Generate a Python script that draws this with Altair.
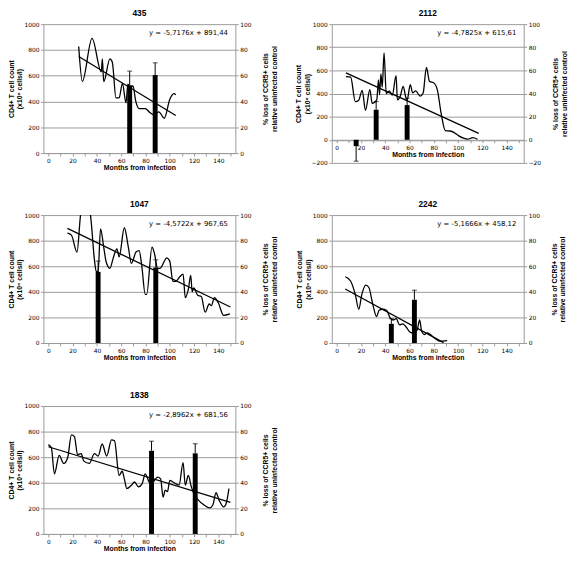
import altair as alt
import pandas as pd

panel_ids = ["435", "2112", "1047", "2242", "1838"]

# CD4+ T cell count curves: months from infection / count
m_435 = [25, 28, 36, 43.6, 44.5, 45.6, 50.7, 52.7, 55.7, 58.3, 61, 64, 65.5, 67.5, 69.7, 72, 74.8, 79.8, 83.6, 87.4, 91, 95.5, 100, 103.4, 105]
c_435 = [826, 556, 890, 630, 730, 554, 730, 705, 428, 428, 541, 390, 535, 505, 521, 403, 345, 345, 315, 295, 320, 270, 415, 461, 453]

m_2112 = [7.6, 11.5, 15.3, 18, 21, 23.7, 27.3, 29.2, 33, 34.4, 35.3, 36.4, 37.5, 39, 40.8, 43.3, 45.8, 48.9, 50, 52.2, 54.8, 56.8, 58, 60.6, 62.6, 65, 68.8, 71.2, 73.9, 76.4, 80.2, 83, 86, 89.5, 93.5, 96.8, 100.6, 104.4, 108, 112, 116]
c_2112 = [546, 541, 330, 340, 428, 254, 434, 315, 345, 518, 390, 569, 455, 752, 400, 423, 386, 555, 345, 372, 462, 372, 345, 476, 405, 423, 378, 405, 625, 507, 490, 428, 230, 80, 76, 62, 34, 14, 5, 18, 5]

m_1047 = [15.7, 19, 23.6, 26.5, 30, 34.7, 38, 39.5, 41, 43, 45.6, 47.6, 50.7, 53.7, 56.5, 58.3, 62.6, 65.9, 68.4, 72.2, 74.8, 77, 79.8, 81, 85.4, 87.4, 90, 92, 97.6, 100, 102.6, 105, 108.5, 111, 112.8, 115.3, 117.3, 118.5, 119.9, 123, 126, 129.2, 132.5, 134.3, 136.8, 139.9, 144.4, 149.5]
c_1047 = [858, 843, 711, 1000, 1150, 1000, 647, 558, 560, 893, 750, 635, 584, 673, 736, 673, 901, 749, 622, 711, 723, 600, 381, 381, 749, 700, 584, 584, 665, 640, 482, 482, 520, 538, 355, 419, 528, 400, 431, 373, 363, 241, 305, 292, 355, 317, 216, 228]

m_2242 = [7.1, 11.4, 15.2, 18.2, 20.7, 24, 26.5, 29.8, 32.9, 34.9, 37.9, 41, 44.3, 46.8, 49, 51.8, 54.4, 56.9, 60.2, 62, 64.5, 66, 68.3, 70, 72.1, 74.6, 77.1, 79.7, 82.2, 84.7, 87.3, 91]
c_2242 = [518, 485, 383, 264, 380, 452, 434, 299, 206, 256, 264, 256, 193, 180, 190, 142, 150, 129, 86, 79, 104, 95, 180, 91, 66, 79, 66, 46, 28, 15, 15, 18]

m_1838 = [0, 2.5, 5, 8.9, 12.7, 16, 19, 21.5, 24, 27.1, 29.1, 33.7, 38, 41, 44.3, 48.1, 52, 54.5, 58.3, 60.8, 62.6, 64.6, 68.4, 71, 74.3, 77.3, 79.8, 83.6, 86.2, 90, 92.5, 94.5, 96.3, 98.1, 100.1, 102.6, 107.7, 111, 112.8, 115.3, 117.8, 120.4, 123.4, 128, 133, 135.6, 138.1, 140.6, 144.4, 146.2, 148.8]
c_1838 = [698, 673, 470, 614, 551, 600, 774, 761, 622, 627, 571, 551, 627, 609, 703, 609, 736, 728, 457, 490, 431, 355, 381, 406, 368, 393, 470, 400, 406, 444, 431, 287, 343, 330, 419, 406, 381, 558, 381, 457, 368, 305, 266, 228, 203, 228, 322, 266, 211, 230, 355]

# trend line equations and their x-extent
equations = ["y = -5,7176x + 891,44", "y = -4,7825x + 615,61", "y = -4,5722x + 967,65",
             "y = -5,1666x + 458,12", "y = -2,8962x + 681,56"]
slopes = [-5.7176, -4.7825, -4.5722, -5.1666, -2.8962]
intercepts = [891.44, 615.61, 967.65, 458.12, 681.56]
trend_from = [25, 7.6, 15.7, 7, 0]
trend_to = [105, 117, 150, 88, 150]

# % loss of CCR5+ cells bars with error
bar_m = [[67, 88], [16, 32.5, 58], [41, 88.5], [45, 64], [85, 121]]
bar_p = [[52.6, 60.5], [-5.5, 26, 30], [55.6, 59], [15, 33.8], [65, 63]]
bar_e = [[11, 9.5], [13, 7, 6], [8.5, 6], [4, 7.5], [7.5, 7.5]]

left_domains = [[0, 1000], [-200, 1000], [0, 1000], [0, 1000], [0, 1000]]
right_domains = [[0, 100], [-20, 100], [0, 100], [0, 100], [0, 100]]
heights = [131, 141, 130, 130, 130]
eq_y = [930, 920, 930, 930, 930]

curves_m = [m_435, m_2112, m_1047, m_2242, m_1838]
curves_c = [c_435, c_2112, c_1047, c_2242, c_1838]

TICK_FONT = "DejaVu Sans"
TITLE_FONT = "Liberation Sans"
GRAY = "#9a9a9a"
W = 195


def panel(i):
    x_axis = alt.Axis(
        values=list(range(0, 151, 10)),
        labelExpr="datum.value % 20 == 0 ? datum.label : ''",
        title="Months from infection",
        grid=False,
        offset=-(heights[i] * 200 / 1200) if i == 1 else 0,
    )
    X = lambda f: alt.X(f, type="quantitative", scale=alt.Scale(domain=[0, 150], nice=False), axis=x_axis)
    left_axis = alt.Axis(values=list(range(left_domains[i][0], 1001, 200)), format="d",
                         title=["CD4+ T cell count", "(x10\u2076 cells/l)"], grid=True,
                         gridColor=GRAY)
    YL = lambda f: alt.Y(f, type="quantitative",
                         scale=alt.Scale(domain=left_domains[i], nice=False), axis=left_axis)
    right_axis = alt.Axis(values=list(range(right_domains[i][0], 101, 20)), orient="right", format="d",
                          title=["% loss of CCR5+ cells", "relative uninfected control"],
                          grid=False, titleAngle=270, titleBaseline="top", labelColor="black",
                          titlePadding=2)
    YR = lambda f: alt.Y(f, type="quantitative",
                         scale=alt.Scale(domain=right_domains[i], nice=False), axis=right_axis)

    curve = pd.DataFrame({"m": curves_m[i], "v": curves_c[i]})
    trend = pd.DataFrame({"m": [trend_from[i], trend_to[i]],
                          "v": [slopes[i] * trend_from[i] + intercepts[i],
                                slopes[i] * trend_to[i] + intercepts[i]]})
    eq = pd.DataFrame({"m": [148], "v": [eq_y[i]], "t": [equations[i]]})
    bars = pd.DataFrame({"m": bar_m[i], "p": bar_p[i], "e": bar_e[i]})
    bars["top"] = [p + e if p >= 0 else p - e for p, e in zip(bar_p[i], bar_e[i])]

    line = alt.Chart(curve).mark_line(color="black", strokeWidth=1.3, interpolate="monotone",
                                      clip=True).encode(x=X("m"), y=YL("v"))
    reg = alt.Chart(trend).mark_line(color="black", strokeWidth=1.3).encode(x=X("m"), y=YL("v"))
    txt = alt.Chart(eq).mark_text(align="right", baseline="middle", font=TICK_FONT,
                                  fontSize=7, color="black").encode(x=X("m"), y=YL("v"), text="t:N")
    left = alt.layer(line, reg, txt)

    bar = alt.Chart(bars).mark_bar(color="black", size=5).encode(x=X("m"), y=YR("p"))
    rule = alt.Chart(bars).mark_rule(color="black", strokeWidth=1).encode(
        x=X("m"), y=YR("p"), y2="top:Q")
    cap = alt.Chart(bars).mark_tick(color="black", orient="horizontal", size=5, thickness=1).encode(
        x=X("m"), y=YR("top"))
    right = alt.layer(bar, rule, cap)

    return alt.layer(left, right).resolve_scale(y="independent").properties(
        width=W, height=heights[i], title=panel_ids[i])


chart = alt.concat(*[panel(i) for i in range(5)], columns=2, bounds="flush", align="all",
                   spacing={"row": 53, "column": 98}).properties(
    padding={"top": -4, "left": -1, "right": 0, "bottom": 0}).configure_view(
    stroke=None).configure_axis(
    labelFont=TICK_FONT, labelFontSize=6, labelColor="black", labelPadding=1.5,
    tickSize=3, tickColor=GRAY, domainColor=GRAY,
    titleFont=TITLE_FONT, titleFontSize=7, titleFontWeight="bold", titleColor="black",
    titlePadding=1, titleLineHeight=9,
).configure_axisX(titlePadding=0).configure_title(
    font=TITLE_FONT, fontSize=8.5, fontWeight="bold", offset=0, color="black"
)

chart.save("out.html", embed_options={"renderer": "svg", "actions": False})
